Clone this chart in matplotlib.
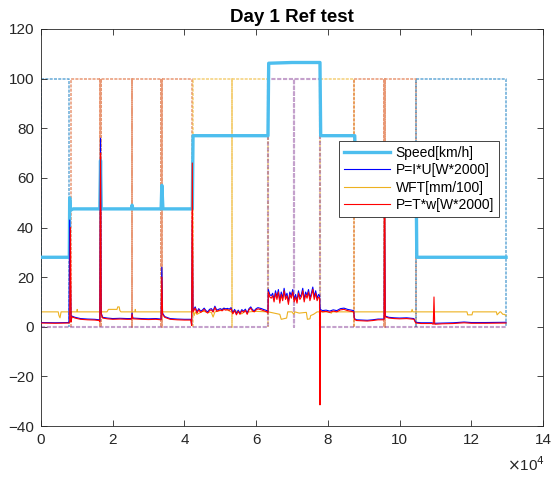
import numpy as np
import matplotlib
matplotlib.use("Agg")
import matplotlib.pyplot as plt
from matplotlib.ticker import FuncFormatter

plt.rcParams['font.family'] = ['Liberation Sans', 'DejaVu Sans']

# ---------------- data (x in units of 1e4 samples) ----------------
speed_x = [0.00, 0.79, 0.80, 0.82, 0.90, 1.64, 1.66, 1.68, 2.52, 2.54, 2.56, 3.35, 3.37, 3.40,
           4.22, 4.24, 6.33, 6.35, 7.00, 7.78, 7.80, 8.75, 8.77, 10.46, 10.48, 12.97]
speed_y = [28, 28, 52, 47, 47.5, 47.5, 67, 47.5, 47.5, 49, 47.5, 47.5, 57, 47.5,
           47.5, 77, 77, 106.2, 106.5, 106.5, 77, 77, 63, 63, 28, 28]

p_x = [0.00, 0.40, 0.78, 0.80, 0.82, 0.84, 0.86, 0.95, 1.10, 1.30,
       1.50, 1.62, 1.64, 1.66, 1.68, 1.72, 1.85, 2.00, 2.20, 2.40,
       2.52, 2.54, 2.56, 2.80, 3.00, 3.20, 3.35, 3.37, 3.39, 3.45,
       3.60, 3.80, 4.00, 4.18, 4.20, 4.22, 4.24, 4.30, 4.35, 4.40,
       4.45, 4.50, 4.55, 4.60, 4.65, 4.70, 4.75, 4.80, 4.85, 4.90,
       4.95, 5.00, 5.05, 5.10, 5.15, 5.20, 5.25, 5.30, 5.35, 5.40,
       5.45, 5.50, 5.55, 5.60, 5.65, 5.70, 5.75, 5.80, 5.85, 5.90,
       5.95, 6.00, 6.05, 6.10, 6.15, 6.20, 6.30, 6.33, 6.34, 6.38,
       6.42, 6.46, 6.50, 6.54, 6.58, 6.62, 6.66, 6.70, 6.74, 6.78,
       6.82, 6.86, 6.90, 6.94, 6.98, 7.02, 7.06, 7.10, 7.14, 7.18,
       7.22, 7.26, 7.30, 7.34, 7.38, 7.42, 7.46, 7.50, 7.54, 7.58,
       7.62, 7.66, 7.70, 7.74, 7.77, 7.78, 7.79, 7.85, 7.95, 8.05,
       8.15, 8.25, 8.35, 8.45, 8.55, 8.65, 8.72, 8.74, 8.80, 8.95,
       9.10, 9.25, 9.40, 9.55, 9.57, 9.58, 9.60, 9.70, 9.85, 10.00,
       10.20, 10.40, 10.45, 10.60, 10.90, 10.94, 10.96, 10.98, 11.20, 11.50,
       11.80, 12.00, 12.40, 12.97]
p_tw = [1.5, 1.4, 1.5, 1.6, 40, 2.0, 4.0, 3.5, 3.0, 2.8,
        2.7, 2.5, 2.0, 70, 5.0, 3.5, 3.2, 3.0, 3.1, 3.0,
        3.0, 5.0, 3.2, 3.0, 2.9, 3.0, 2.8, 20, 5.0, 3.8,
        3.0, 2.8, 2.7, 2.7, 0.5, 66, 6.0, 7.5, 5.5, 6.8,
        5.8, 6.2, 7.0, 6.0, 5.5, 6.5, 6.8, 5.9, 7.8, 6.2,
        6.5, 6.8, 6.4, 7.0, 6.7, 6.9, 6.6, 7.2, 5.2, 6.5,
        4.8, 6.2, 5.0, 6.4, 5.8, 6.6, 5.0, 6.8, 7.5, 6.3,
        6.0, 6.8, 7.2, 7.0, 6.8, 6.5, 6.0, 5.5, 14.0, 12.0,
        11.5, 12.5, 10.0, 13.5, 11.0, 14.0, 9.5, 13.0, 10.5, 14.5,
        11.0, 12.5, 9.0, 13.0, 11.5, 14.0, 10.0, 12.0, 9.5, 13.5,
        11.0, 12.0, 14.5, 10.0, 13.0, 11.5, 14.0, 10.5, 12.5, 15.0,
        11.0, 13.5, 10.5, 12.0, 11.5, -31.5, 6.5, 6.0, 6.2, 5.8,
        6.3, 6.0, 6.8, 7.0, 6.5, 6.2, 6.0, 3.0, 2.5, 2.4,
        2.3, 2.5, 2.8, 2.8, 3.0, 60, 4.0, 3.5, 3.3, 3.2,
        3.3, 3.0, 1.5, 1.3, 1.3, 1.0, 12.0, 1.0, 1.2, 1.3,
        1.6, 1.4, 1.4, 1.5]
p_iu = [1.7, 1.6, 1.7, 43, 20, 2.3, 4.3, 3.8, 3.3, 3.1,
        3.0, 2.8, 2.3, 76, 5.5, 3.8, 3.5, 3.3, 3.4, 3.3,
        3.3, 5.5, 3.5, 3.3, 3.2, 3.3, 3.1, 24, 5.5, 4.1,
        3.3, 3.1, 3.0, 3.0, 0.8, 43, 6.5, 8.0, 6.0, 7.3,
        6.3, 6.7, 7.5, 6.5, 6.0, 7.0, 7.3, 6.4, 8.3, 6.7,
        7.0, 7.3, 6.9, 7.5, 7.2, 7.4, 7.1, 7.7, 5.7, 7.0,
        5.3, 6.7, 5.5, 6.9, 6.3, 7.1, 5.5, 7.3, 8.0, 6.8,
        6.5, 7.3, 7.7, 7.5, 7.3, 7.0, 6.5, 6.0, 15.0, 13.0,
        12.5, 13.5, 11.0, 14.5, 12.0, 15.0, 10.5, 14.0, 11.5, 15.5,
        12.0, 13.5, 10.0, 14.0, 12.5, 15.0, 11.0, 13.0, 10.5, 14.5,
        12.0, 13.0, 15.5, 11.0, 14.0, 12.5, 15.0, 11.5, 13.5, 16.0,
        12.0, 14.5, 11.5, 13.0, 12.5, 8.0, 7.0, 6.5, 6.7, 6.3,
        6.8, 6.5, 7.3, 7.5, 7.0, 6.7, 6.5, 3.3, 2.8, 2.7,
        2.6, 2.8, 3.1, 3.1, 3.3, 50, 4.3, 3.8, 3.6, 3.5,
        3.6, 3.3, 1.8, 1.6, 1.6, 1.4, 1.6, 1.4, 1.5, 1.6,
        1.9, 1.7, 1.7, 1.8]

wft_x = [0.00, 0.48, 0.50, 0.53, 0.56, 1.00, 1.01, 1.02, 1.84, 1.88, 2.12, 2.14, 2.18, 2.20, 2.23, 2.62, 2.63, 2.64,
         4.24, 4.27, 4.30, 4.35, 4.50, 4.75, 4.80, 4.85, 5.00, 5.10, 5.30, 5.35, 5.40, 5.50, 5.60, 5.70, 5.80, 6.00, 6.30,
         6.34, 6.50, 6.66, 6.70, 6.85, 6.88, 7.00, 7.05, 7.08, 7.20, 7.40, 7.43, 7.50, 7.52, 7.60, 7.70, 7.79,
         8.00, 8.10, 8.12, 8.40, 8.74, 10.33, 10.35, 10.37, 11.88, 11.90, 12.02, 12.04, 12.70, 12.72, 12.80, 12.82, 12.88, 12.92, 12.97]
wft_y = [6.0, 6.0, 4.5, 3.6, 6.0, 6.0, 7.0, 6.0, 6.0, 7.0, 7.0, 8.0, 8.0, 6.5, 6.0, 6.0, 7.0, 6.0,
         6.0, 4.5, 6.0, 5.0, 6.2, 5.8, 3.9, 6.0, 6.5, 7.5, 6.0, 5.5, 6.5, 6.0, 5.2, 6.3, 6.0, 6.2, 6.0,
         6.0, 5.5, 5.0, 3.0, 3.5, 6.0, 6.0, 5.0, 6.0, 5.5, 5.8, 3.0, 3.2, 4.5, 5.0, 6.0, 6.0,
         6.0, 5.5, 6.0, 6.0, 6.0, 6.0, 7.0, 6.0, 6.0, 4.8, 4.8, 6.0, 6.0, 4.8, 6.0, 6.0, 5.0, 5.0, 4.5]

# segment indicator signals (0 / 100)
ind_colors = ['#0072BD', '#D95319', '#EDB120', '#7E2F8E', '#EDB120', '#D95319', '#0072BD']
ind_start = [0.00, 0.84, 4.24, 6.34, 7.79, 8.74, 10.47]
ind_end = [0.79, 4.22, 6.34, 7.79, 8.74, 10.45, 12.97]
ind_dips = [[], [1.64, 1.66, 2.54, 3.36, 3.38], [5.33], [7.06], [], [9.57, 9.59], []]
ind_baseline = [False, False, False, True, False, False, False]
ind_high = 100
ind_low = 0
x_last = 12.97

labels = ['Speed[km/h]', 'P=I*U[W*2000]', 'WFT[mm/100]', 'P=T*w[W*2000]']
title = 'Day 1 Ref test'
SCALE = 1e4

# ---------------- plot ----------------
fig = plt.figure(figsize=(5.51, 4.80), dpi=100)
ax = fig.add_axes([41/551, 54/480, 502/551, 397/480])

for k in range(len(ind_colors)):
    s, e = ind_start[k], ind_end[k]
    xs = [s, s]
    ys = [ind_low, ind_high]
    for d in ind_dips[k]:
        xs += [d, d, d]
        ys += [ind_high, ind_low, ind_high]
    xs += [e, e]
    ys += [ind_high, ind_low]
    if ind_baseline[k]:
        xs = [0.0] + xs + [x_last]
        ys = [ind_low] + ys + [ind_low]
    ax.plot(np.array(xs) * SCALE, ys, linestyle=(0, (2.0, 0.8)), color=ind_colors[k],
            lw=1.1 if not ind_baseline[k] else 1.5,
            alpha=0.6 if not ind_baseline[k] else 0.45, zorder=1 + ind_baseline[k])

h_speed, = ax.plot(np.array(speed_x) * SCALE, speed_y, color='#4DBEEE', lw=2.4, zorder=3)
h_iu, = ax.plot(np.array(p_x) * SCALE, p_iu, color='#0000FF', lw=0.8, zorder=3)
h_wft, = ax.plot(np.array(wft_x) * SCALE, wft_y, color='#EDB120', lw=0.8, zorder=2.5)
h_tw, = ax.plot(np.array(p_x) * SCALE, p_tw, color='#FF0000', lw=0.8, zorder=3.5)

ax.set_xlim(0, 14e4)
ax.set_ylim(-40, 120)
ax.set_xticks(np.arange(0, 14.01, 2) * SCALE)
ax.set_yticks(np.arange(-40, 121, 20))
ax.xaxis.set_major_formatter(FuncFormatter(lambda v, p: f"{v / SCALE:g}"))
fig.text(545/551, 1 - 465/480, r'$\times$10$^{4}$', ha='right', va='center',
         fontsize=11, color='#262626')

ax.tick_params(direction='in', top=True, right=True, length=4, width=0.6,
               labelsize=11, colors='#262626', pad=5)
for sp in ax.spines.values():
    sp.set_color('#262626')
    sp.set_linewidth(0.6)

ax.set_title(title, fontsize=13.5, fontweight='bold', pad=5)

leg = ax.legend([h_speed, h_iu, h_wft, h_tw], labels, loc='upper left',
                bbox_to_anchor=(0.594, 0.718), borderaxespad=0, fontsize=10,
                fancybox=False, framealpha=1, edgecolor='#262626',
                handlelength=3.3, handletextpad=0.4, labelspacing=0.25,
                borderpad=0.35)
leg.get_frame().set_linewidth(0.6)
leg.set_zorder(10)

fig.savefig('out.png', dpi=100, facecolor='white')
